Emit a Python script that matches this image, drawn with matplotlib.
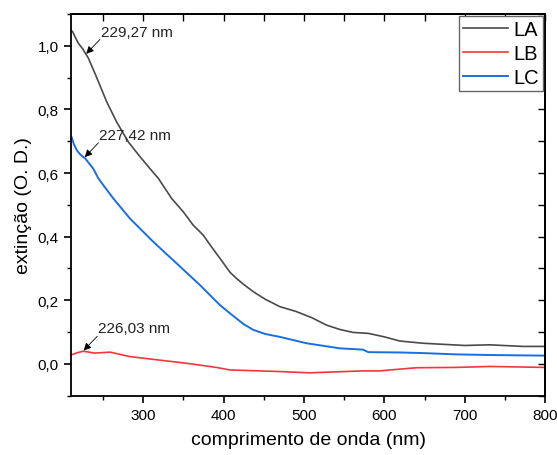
import matplotlib
matplotlib.use('Agg')
import matplotlib.pyplot as plt
from matplotlib.ticker import MultipleLocator, FuncFormatter

plt.rcParams['font.family'] = ['Liberation Sans', 'DejaVu Sans']

# extinction spectra (wavelength in nm, extinction in O.D.)
wl_la = [210, 212.5, 216, 219.5, 225, 232, 242, 254.7, 267, 281.6, 295, 308.5, 319,
         335.5, 350, 362, 374.7, 385, 395.5, 408, 416, 425, 437, 452, 470, 490, 510,
         528, 545, 561, 580, 600, 619, 648, 670, 700, 731, 772, 800]
ext_la = [1.05, 1.044, 1.025, 1.008, 0.99, 0.961, 0.902, 0.824, 0.761, 0.698, 0.655,
          0.614, 0.583, 0.520, 0.478, 0.437, 0.405, 0.368, 0.332, 0.288, 0.269, 0.250,
          0.227, 0.203, 0.180, 0.165, 0.145, 0.122, 0.108, 0.099, 0.096, 0.085, 0.072,
          0.065, 0.062, 0.058, 0.060, 0.055, 0.055]

wl_lb = [210, 218, 225.6, 240, 259, 283.7, 317, 354, 391, 408, 470, 507, 573, 594,
         607, 640, 689, 731, 800]
ext_lb = [0.028, 0.035, 0.040, 0.034, 0.037, 0.023, 0.013, 0.002, -0.011, -0.019,
          -0.024, -0.028, -0.022, -0.022, -0.019, -0.012, -0.011, -0.008, -0.011]

wl_lc = [210, 211, 214, 217.5, 222, 228, 238, 244, 250.5, 263, 283.7, 312.6, 341.7,
         370.6, 395.5, 408, 416, 425, 437, 452, 470, 503, 544.5, 573, 580, 619, 648,
         689, 731, 800]
ext_lc = [0.715, 0.714, 0.690, 0.672, 0.658, 0.646, 0.614, 0.585, 0.562, 0.520, 0.457,
          0.384, 0.316, 0.248, 0.185, 0.159, 0.143, 0.125, 0.107, 0.094, 0.085, 0.065,
          0.049, 0.045, 0.037, 0.036, 0.034, 0.030, 0.028, 0.026]

# peak labels: (wavelength, extinction at peak, label)
peaks = [(229.27, 0.975, '229,27 nm'),
         (227.42, 0.650, '227,42 nm'),
         (226.03, 0.042, '226,03 nm')]

fig = plt.figure(figsize=(5.57, 4.56), dpi=100)
ax = fig.add_axes([0.127, 0.130, 0.852, 0.837])

ax.plot(wl_la, ext_la, color='#4a4a4a', lw=1.2, label='LA')
ax.plot(wl_lb, ext_lb, color='#f2363c', lw=1.2, label='LB')
ax.plot(wl_lc, ext_lc, color='#1a6fe0', lw=1.4, label='LC')

for (x, y, txt) in peaks:
    ax.annotate('', xy=(x, y), xytext=(x + 17, y + 0.045),
                arrowprops=dict(arrowstyle='-|>', color='black', lw=0.6,
                                mutation_scale=11, shrinkA=0, shrinkB=0))
    ax.text(x + 18, y + 0.07, txt, fontsize=11, color='#222222',
            ha='left', va='center')

ax.set_xlim(210, 800)
ax.set_ylim(-0.1, 1.1)

comma = FuncFormatter(lambda v, p: ('%.1f' % v).replace('.', ','))
ax.xaxis.set_major_locator(MultipleLocator(100))
ax.xaxis.set_minor_locator(MultipleLocator(50))
ax.yaxis.set_major_locator(MultipleLocator(0.2))
ax.yaxis.set_minor_locator(MultipleLocator(0.1))
ax.yaxis.set_major_formatter(comma)
ax.tick_params(which='major', direction='out', length=5, width=1.2, labelsize=11)
ax.tick_params(which='minor', direction='out', length=3, width=1.0)

# inward ticks on the top and right frame
top = ax.secondary_xaxis('top')
top.xaxis.set_major_locator(MultipleLocator(50))
top.tick_params(direction='in', length=5, width=1.0, labeltop=False)
right = ax.secondary_yaxis('right')
right.yaxis.set_major_locator(MultipleLocator(0.1))
right.tick_params(direction='in', length=5, width=1.0, labelright=False)

for s in ax.spines.values():
    s.set_linewidth(1.3)
for s in list(top.spines.values()) + list(right.spines.values()):
    s.set_linewidth(1.3)

ax.set_xlabel('comprimento de onda (nm)', fontsize=14, labelpad=7)
ax.set_ylabel('extinção (O. D.)', fontsize=14, labelpad=4)

leg = ax.legend(loc='upper right', fontsize=14.5, fancybox=False, framealpha=1,
                edgecolor='#666666', handlelength=2.2, handletextpad=0.3,
                borderpad=0.2, labelspacing=0.25, borderaxespad=0.1)
leg.get_frame().set_linewidth(1.0)

fig.savefig('out.png', dpi=100)
